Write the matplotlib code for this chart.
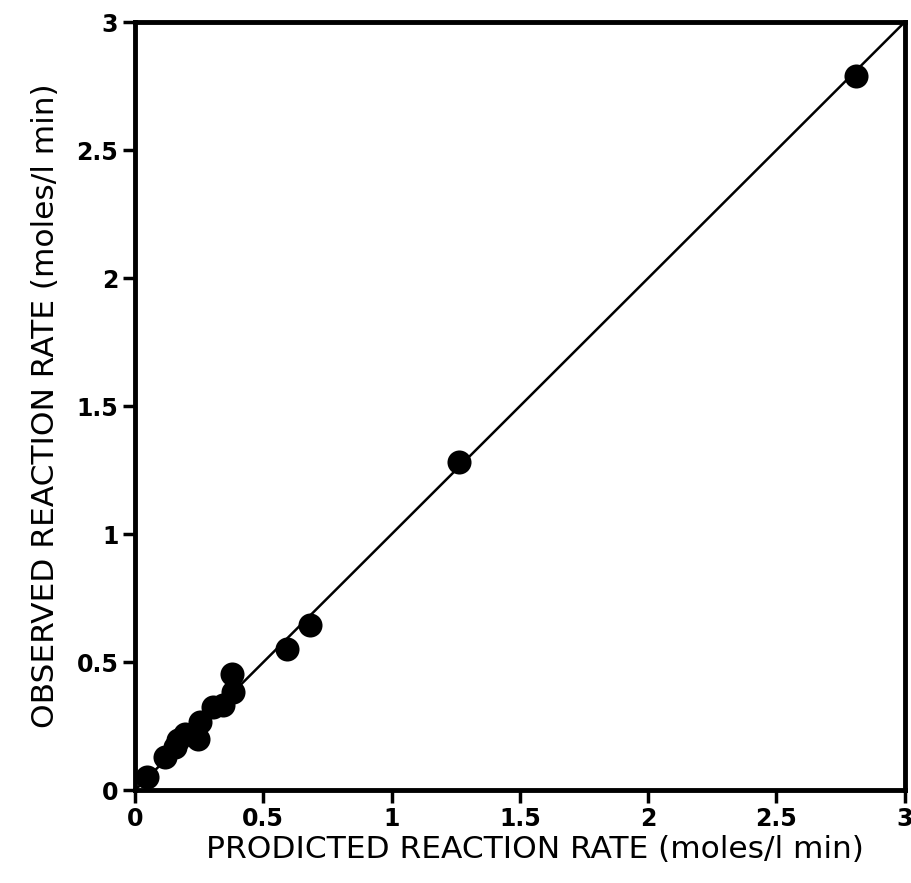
import matplotlib
matplotlib.use("Agg")
import matplotlib.pyplot as plt

# data
predicted = [0.045, 0.117, 0.156, 0.169, 0.195, 0.247, 0.253, 0.305, 0.344, 0.383, 0.377, 0.591, 0.682, 1.263, 2.81]
observed  = [0.052, 0.130, 0.169, 0.195, 0.221, 0.200, 0.267, 0.325, 0.332, 0.384, 0.456, 0.553, 0.645, 1.282, 2.79]
line_x = [0, 3]
line_y = [0, 3]
ticks = [0, 0.5, 1, 1.5, 2, 2.5, 3]
tick_labels = ["0", "0.5", "1", "1.5", "2", "2.5", "3"]
xlabel = "PRODICTED REACTION RATE (moles/l min)"
ylabel = "OBSERVED REACTION RATE (moles/l min)"

fig = plt.figure(figsize=(9.12, 8.83), dpi=100)
ax = fig.add_axes([0.148, 0.105, 0.844, 0.870])

ax.plot(line_x, line_y, color="black", lw=1.8, zorder=2)
ax.scatter(predicted, observed, s=300, color="black", zorder=3, linewidths=0)

ax.set_xlim(0, 3)
ax.set_ylim(0, 3)
ax.set_xticks(ticks)
ax.set_yticks(ticks)
ax.set_xticklabels(tick_labels, fontsize=17, fontweight="bold")
ax.set_yticklabels(tick_labels, fontsize=17, fontweight="bold")
ax.tick_params(direction="out", length=9, width=2.5, pad=3)

for s in ax.spines.values():
    s.set_linewidth(3.5)

ax.set_xlabel(xlabel, fontsize=22.5, labelpad=6)
ax.xaxis.set_label_coords(0.52, -0.058)
ax.set_ylabel(ylabel, fontsize=22.5, labelpad=12)

fig.savefig("out.png", dpi=100)
